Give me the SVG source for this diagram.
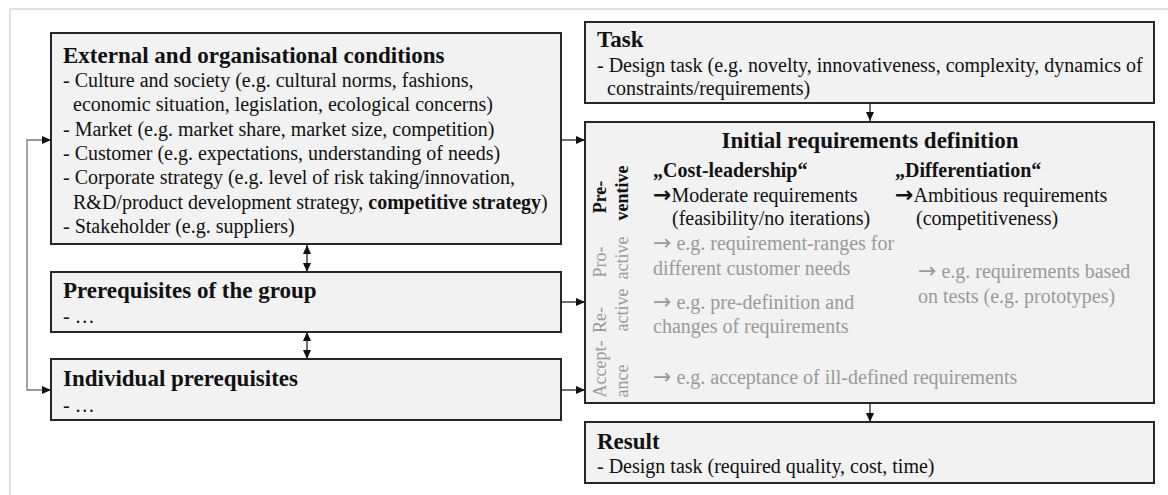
<svg xmlns="http://www.w3.org/2000/svg" width="1168" height="495" viewBox="0 0 1168 495">
<style>
.box{fill:#f2f2f2;stroke:#262626;stroke-width:2}
.t{font-family:"Liberation Serif","Times New Roman",serif;fill:#111}
.h{font-size:23px;font-weight:bold}
.b{font-size:20px}
.g{fill:#9a9a9a}
.bb{font-weight:bold}
.rl{font-size:18px}
.ar{font-family:"DejaVu Sans",sans-serif;font-size:22px}
.line{fill:none;stroke:#222;stroke-width:1.3}
.gl{fill:none;stroke:#777;stroke-width:1.3}
</style>
<defs>
<marker id="ah" markerWidth="10" markerHeight="10" refX="9" refY="5" orient="auto-start-reverse" markerUnits="userSpaceOnUse">
<path d="M0,1 L9,5 L0,9 Z" fill="#111"/>
</marker>
</defs>
<rect x="0" y="0" width="1168" height="495" fill="#fff"/>
<rect x="10" y="9" width="1175" height="500" fill="none" stroke="#d6d6d6" stroke-width="1.5"/>

<g id="connectors">
<polyline class="gl" points="51,140 27,140 27,390 51,390" marker-start="url(#ah)" marker-end="url(#ah)"/>
<line class="line" x1="561" y1="140" x2="585" y2="140" marker-end="url(#ah)"/>
<line class="line" x1="561" y1="302" x2="585" y2="302" marker-end="url(#ah)"/>
<line class="line" x1="561" y1="390" x2="585" y2="390" marker-end="url(#ah)"/>
<line class="line" x1="307" y1="245" x2="307" y2="272" marker-start="url(#ah)" marker-end="url(#ah)"/>
<line class="line" x1="307" y1="332" x2="307" y2="359" marker-start="url(#ah)" marker-end="url(#ah)"/>
<line class="line" x1="870" y1="103" x2="870" y2="121" marker-end="url(#ah)"/>
<line class="line" x1="870" y1="403" x2="870" y2="422" marker-end="url(#ah)"/>
</g>

<g id="external">
<rect class="box" x="51" y="33" width="510" height="211"/>
<text class="t h" x="63" y="63">External and organisational conditions</text>
<text class="t b" x="63" y="87">- Culture and society (e.g. cultural norms, fashions,</text>
<text class="t b" x="73" y="111">economic situation, legislation, ecological concerns)</text>
<text class="t b" x="63" y="136">- Market (e.g. market share, market size, competition)</text>
<text class="t b" x="63" y="160">- Customer (e.g. expectations, understanding of needs)</text>
<text class="t b" x="63" y="184">- Corporate strategy (e.g. level of risk taking/innovation,</text>
<text class="t b" x="73" y="209">R&amp;D/product development strategy, <tspan class="bb">competitive strategy</tspan>)</text>
<text class="t b" x="63" y="233">- Stakeholder (e.g. suppliers)</text>
</g>

<g id="group">
<rect class="box" x="51" y="272" width="510" height="60"/>
<text class="t h" x="63" y="298">Prerequisites of the group</text>
<text class="t b" x="63" y="323">- …</text>
</g>

<g id="individual">
<rect class="box" x="51" y="359" width="510" height="61"/>
<text class="t h" x="63" y="386">Individual prerequisites</text>
<text class="t b" x="63" y="412">- …</text>
</g>

<g id="task">
<rect class="box" x="585" y="22" width="569" height="81"/>
<text class="t h" x="597" y="47">Task</text>
<text class="t b" x="597" y="72">- Design task (e.g. novelty, innovativeness, complexity, dynamics of</text>
<text class="t b" x="607" y="95">constraints/requirements)</text>
</g>

<g id="initial">
<rect class="box" x="585" y="122" width="569" height="281"/>
<text class="t h" x="870" y="148" text-anchor="middle">Initial requirements definition</text>
<text class="t rl bb" transform="translate(606,197) rotate(-90)" text-anchor="middle">Pre-</text>
<text class="t rl bb" transform="translate(628,193) rotate(-90)" text-anchor="middle">ventive</text>
<text class="t rl g" transform="translate(606,262) rotate(-90)" text-anchor="middle">Pro-</text>
<text class="t rl g" transform="translate(628,258) rotate(-90)" text-anchor="middle">active</text>
<text class="t rl g" transform="translate(606,320) rotate(-90)" text-anchor="middle">Re-</text>
<text class="t rl g" transform="translate(628,310) rotate(-90)" text-anchor="middle">active</text>
<text class="t rl g" transform="translate(606,369) rotate(-90)" text-anchor="middle">Accept-</text>
<text class="t rl g" transform="translate(628,381) rotate(-90)" text-anchor="middle">ance</text>
<text class="t b bb" x="653" y="177">„Cost-leadership“</text>
<text class="t b" x="653" y="202"><tspan class="ar bb">→</tspan>Moderate requirements</text>
<text class="t b" x="672" y="225">(feasibility/no iterations)</text>
<text class="t b bb" x="895" y="177">„Differentiation“</text>
<text class="t b" x="895" y="202"><tspan class="ar bb">→</tspan>Ambitious requirements</text>
<text class="t b" x="916" y="225">(competitiveness)</text>
<text class="t b g" x="653" y="250"><tspan class="ar">→</tspan> e.g. requirement-ranges for</text>
<text class="t b g" x="653" y="275">different customer needs</text>
<text class="t b g" x="918" y="278"><tspan class="ar">→</tspan> e.g. requirements based</text>
<text class="t b g" x="918" y="303">on tests (e.g. prototypes)</text>
<text class="t b g" x="653" y="309"><tspan class="ar">→</tspan> e.g. pre-definition and</text>
<text class="t b g" x="653" y="333">changes of requirements</text>
<text class="t b g" x="653" y="384"><tspan class="ar">→</tspan> e.g. acceptance of ill-defined requirements</text>
</g>

<g id="result">
<rect class="box" x="585" y="422" width="569" height="61"/>
<text class="t h" x="597" y="449">Result</text>
<text class="t b" x="597" y="473">- Design task (required quality, cost, time)</text>
</g>
</svg>
